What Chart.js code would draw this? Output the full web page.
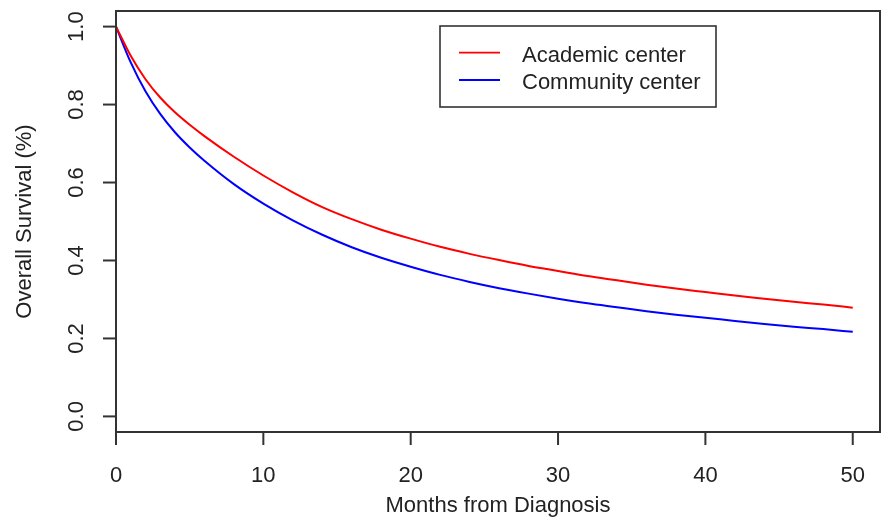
<!DOCTYPE html>
<html>
<head>
<meta charset="utf-8">
<script src="https://cdn.jsdelivr.net/npm/chart.js@4/dist/chart.umd.min.js"></script>
<style>
html,body{margin:0;padding:0;background:#fff;}
#wrap{width:883px;height:521px;position:relative;}
</style>
</head>
<body>
<div id="wrap"><canvas id="c"></canvas></div>
<script>
const months = [0,1,2,3,4,5,6,8,10,12,14,16,18,20,22,24,26,28,30,32,34,36,38,40,42,44,46,48,50];
const academic = [1,0.925,0.865,0.818,0.780,0.748,0.719,0.666,0.618,0.575,0.537,0.506,0.479,0.456,0.435,0.417,0.401,0.386,0.373,0.360,0.349,0.338,0.328,0.319,0.310,0.302,0.294,0.287,0.279];
const community = [1,0.908,0.834,0.776,0.729,0.690,0.656,0.596,0.546,0.503,0.466,0.434,0.407,0.384,0.363,0.345,0.329,0.315,0.302,0.290,0.280,0.270,0.261,0.253,0.245,0.237,0.230,0.224,0.217];
const xTicks = [0,10,20,30,40,50];
const yTicks = [0,0.2,0.4,0.6,0.8,1.0];
const yTickLabels = ["0.0","0.2","0.4","0.6","0.8","1.0"];
const seriesNames = ["Academic center","Community center"];
const seriesColors = ["#ff0000","#0000ff"];
const xTitle = "Months from Diagnosis";
const yTitle = "Overall Survival (%)";

const FONT = '22px "Liberation Sans", Arial, sans-serif';
const INK = '#222';

const rPlot = {
  id: 'rPlot',
  afterDraw(chart) {
    const ctx = chart.ctx;
    const a = chart.chartArea;
    const xs = chart.scales.x, ys = chart.scales.y;
    ctx.save();
    ctx.strokeStyle = '#333';
    ctx.lineWidth = 2;
    ctx.strokeRect(a.left, a.top, a.right - a.left, a.bottom - a.top);
    ctx.font = FONT;
    ctx.fillStyle = INK;
    ctx.textAlign = 'center';
    ctx.textBaseline = 'alphabetic';
    xTicks.forEach(v => {
      const px = xs.getPixelForValue(v);
      ctx.beginPath();
      ctx.moveTo(px, a.bottom);
      ctx.lineTo(px, a.bottom + 13);
      ctx.stroke();
      ctx.fillText(String(v), px, 482);
    });
    yTicks.forEach((v, i) => {
      const py = ys.getPixelForValue(v);
      ctx.beginPath();
      ctx.moveTo(a.left, py);
      ctx.lineTo(a.left - 13, py);
      ctx.stroke();
      ctx.save();
      ctx.translate(83, py);
      ctx.rotate(-Math.PI / 2);
      ctx.textAlign = 'center';
      ctx.textBaseline = 'alphabetic';
      ctx.fillText(yTickLabels[i], 0, 0);
      ctx.restore();
    });
    ctx.textAlign = 'center';
    ctx.fillText(xTitle, (a.left + a.right) / 2, 512);
    ctx.save();
    ctx.translate(31, (a.top + a.bottom) / 2);
    ctx.rotate(-Math.PI / 2);
    ctx.fillText(yTitle, 0, 0);
    ctx.restore();
    const lx = 440, ly = 26, lw = 276, lh = 81;
    ctx.lineWidth = 1.6;
    ctx.strokeStyle = '#333';
    ctx.strokeRect(lx, ly, lw, lh);
    const rows = [52.7, 80];
    const bases = [61.5, 88.5];
    seriesNames.forEach((n, i) => {
      ctx.strokeStyle = seriesColors[i];
      ctx.lineWidth = 1.8;
      ctx.beginPath();
      ctx.moveTo(459, rows[i]);
      ctx.lineTo(500, rows[i]);
      ctx.stroke();
      ctx.textAlign = 'left';
      ctx.fillStyle = INK;
      ctx.fillText(n, 522, bases[i]);
    });
    ctx.restore();
  }
};

const toPts = arr => months.map((m, i) => ({x: m, y: arr[i]}));

new Chart(document.getElementById('c'), {
  type: 'line',
  data: {
    datasets: [
      {label: seriesNames[0], data: toPts(academic), borderColor: seriesColors[0], borderWidth: 2, pointRadius: 0, fill: false, cubicInterpolationMode: 'monotone'},
      {label: seriesNames[1], data: toPts(community), borderColor: seriesColors[1], borderWidth: 2, pointRadius: 0, fill: false, cubicInterpolationMode: 'monotone'}
    ]
  },
  options: {
    responsive: true,
    maintainAspectRatio: false,
    animation: false,
    layout: {padding: {left: 116, right: 3, top: 11, bottom: 89}},
    plugins: {legend: {display: false}, tooltip: {enabled: false}},
    scales: {
      x: {type: 'linear', min: 0, max: 51.85, display: false},
      y: {type: 'linear', min: -0.04, max: 1.04, display: false}
    }
  },
  plugins: [rPlot]
});
</script>
</body>
</html>
